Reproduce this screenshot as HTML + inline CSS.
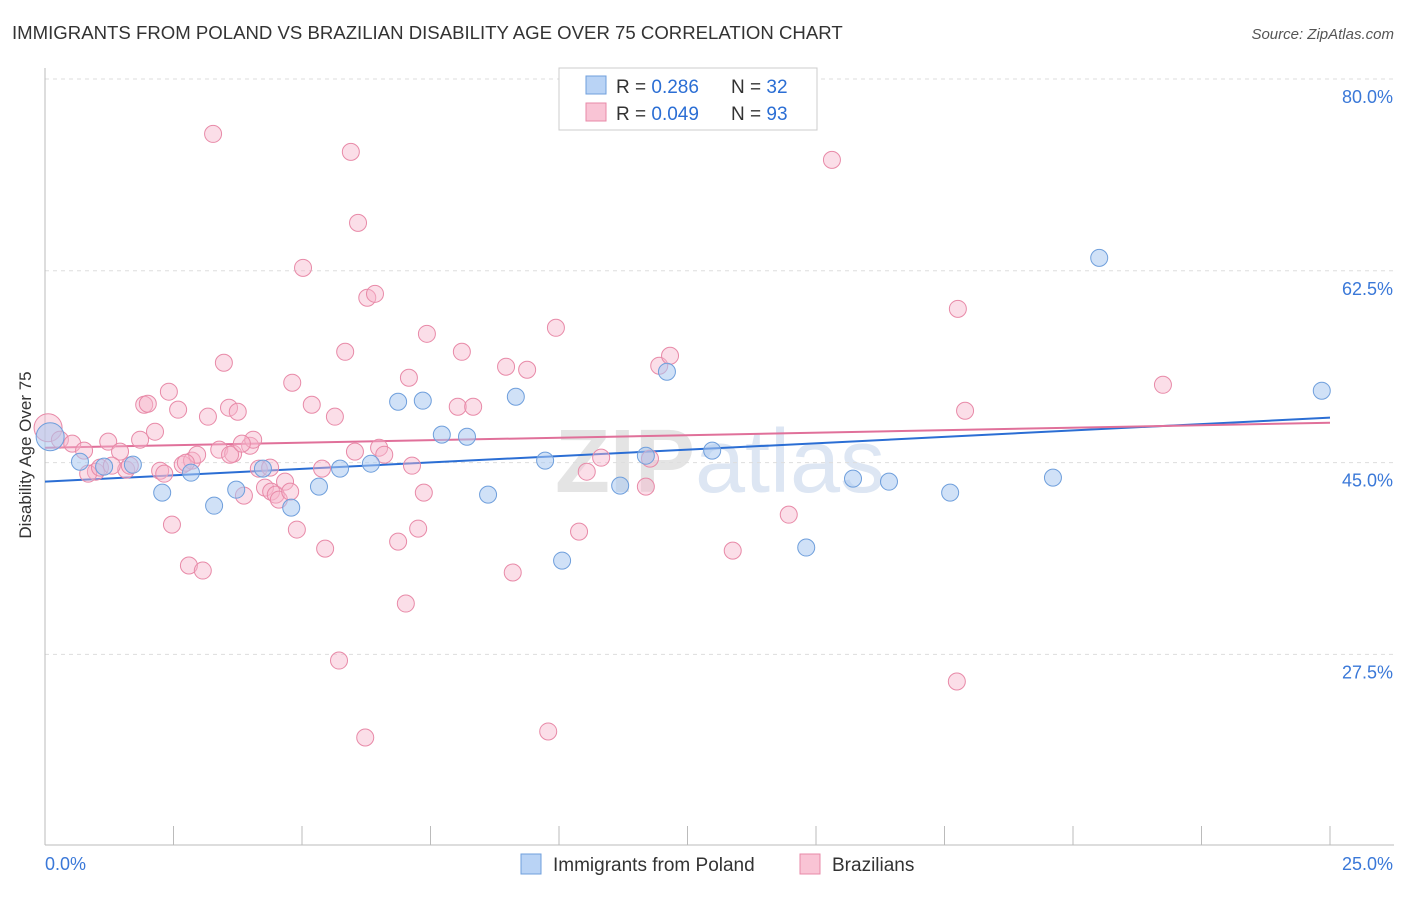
<!DOCTYPE html>
<html><head><meta charset="utf-8">
<style>
body{margin:0;background:#fff;font-family:"Liberation Sans",sans-serif;}
svg text{font-family:"Liberation Sans",sans-serif;}
</style></head>
<body>
<svg id="chart" width="1406" height="892" xmlns="http://www.w3.org/2000/svg">
<text x="12" y="39" font-size="18.6" fill="#333">IMMIGRANTS FROM POLAND VS BRAZILIAN DISABILITY AGE OVER 75 CORRELATION CHART</text>
<text x="1394" y="39" font-size="15" fill="#555" text-anchor="end" font-style="italic">Source: ZipAtlas.com</text>
<text transform="translate(31,455) rotate(-90)" font-size="17" fill="#333" text-anchor="middle">Disability Age Over 75</text>
<text x="720" y="492" font-size="90" fill="#e4e4e4" text-anchor="middle" font-weight="bold">ZIP<tspan fill="#dde6f3" font-weight="normal">atlas</tspan></text>
<g id="grid"></g>
<g id="axes"></g>
<g id="lines"></g>
<g id="points"></g>
<g>
<rect x="559" y="68" width="258" height="62" fill="#fff" stroke="#ccc"/>
<rect x="586" y="76" width="20" height="18" fill="#b9d3f5" stroke="#6f9fdc"/>
<text x="616" y="93" font-size="19" fill="#333">R = <tspan fill="#2b6ed4">0.286</tspan></text>
<text x="731" y="93" font-size="19" fill="#333">N = <tspan fill="#2b6ed4">32</tspan></text>
<rect x="586" y="103" width="20" height="18" fill="#f9c4d5" stroke="#e88aa8"/>
<text x="616" y="120" font-size="19" fill="#333">R = <tspan fill="#2b6ed4">0.049</tspan></text>
<text x="731" y="120" font-size="19" fill="#333">N = <tspan fill="#2b6ed4">93</tspan></text>
</g>
<g>
<rect x="521" y="854" width="20" height="20" fill="#b9d3f5" stroke="#6f9fdc"/>
<text x="553" y="871" font-size="19" fill="#333">Immigrants from Poland</text>
<rect x="800" y="854" width="20" height="20" fill="#f9c4d5" stroke="#e88aa8"/>
<text x="832" y="871" font-size="19" fill="#333">Brazilians</text>
</g>
</svg>
<script>
const yTicks=[80,62.5,45,27.5];
const yTickLabels=["80.0%","62.5%","45.0%","27.5%"];
const xTickLabels=["0.0%","25.0%"];
const polandX=[0.10,0.68,1.15,1.71,2.28,2.84,3.29,3.72,4.24,4.79,5.33,5.74,6.34,6.87,7.35,7.72,8.21,8.62,9.16,9.73,10.06,11.19,11.69,12.10,12.98,14.81,15.72,16.42,17.61,19.61,20.51,24.84];
const polandY=[47.36,45.08,44.63,44.81,42.26,44.08,41.07,42.53,44.45,40.89,42.81,44.45,44.90,50.55,50.65,47.55,47.36,42.08,51.01,45.18,36.06,42.90,45.63,53.29,46.09,37.25,43.54,43.26,42.26,43.63,63.68,51.56];
const brazilX=[0.06,0.29,0.53,0.76,0.99,1.23,1.46,1.58,1.85,1.93,2.00,2.14,2.24,2.32,2.41,2.47,2.59,2.68,2.80,2.86,2.96,3.07,3.17,3.27,3.39,3.48,3.58,3.66,3.75,3.87,3.99,4.05,4.16,4.28,4.40,4.49,4.55,4.67,4.81,4.90,5.02,5.19,5.39,5.45,5.64,5.72,5.84,5.95,6.09,6.23,6.27,6.42,6.50,6.60,6.87,7.02,7.08,7.14,7.26,7.37,7.43,8.11,8.03,8.33,8.97,9.10,9.38,9.79,9.94,10.39,10.54,10.82,11.69,11.77,11.95,12.16,13.38,14.47,15.31,17.74,17.76,17.90,21.75,0.84,1.07,1.30,1.65,2.74,3.60,3.83,4.38,4.77,6.03];
const brazilY=[48.18,47.09,46.73,46.09,44.17,46.91,46.00,44.36,47.09,50.28,50.37,47.82,44.26,43.99,51.47,39.34,49.83,44.81,35.61,45.18,45.72,35.15,49.19,74.99,46.18,54.11,50.01,45.81,49.64,41.99,46.54,47.09,44.45,42.72,42.35,42.08,41.62,43.26,52.29,38.89,62.77,50.28,44.45,37.15,49.19,26.94,55.11,73.35,66.87,19.92,60.04,60.40,46.36,45.72,37.79,32.14,52.74,44.72,38.98,42.26,56.75,55.11,50.10,50.10,53.75,34.97,53.47,20.47,57.30,38.70,44.17,45.45,42.81,45.36,53.84,54.75,36.97,40.25,72.62,25.03,59.03,49.73,52.10,43.99,44.54,44.72,44.72,44.99,45.72,46.73,44.54,42.35,46.00];
const polandTrend=[43.26,49.10];
const brazilTrend=[46.36,48.64];

const NS="http://www.w3.org/2000/svg";
const X=v=>45+v/25*1285;
const Y=v=>79+(80-v)/17.5*191.8;
function mk(tag,attrs,parent){const e=document.createElementNS(NS,tag);for(const k in attrs)e.setAttribute(k,attrs[k]);parent.appendChild(e);return e;}
const grid=document.getElementById('grid'),axes=document.getElementById('axes'),lines=document.getElementById('lines'),pts=document.getElementById('points');
yTicks.forEach((t,i)=>{
  const l=mk('line',{x1:45,x2:1394,y1:Y(t),y2:Y(t),stroke:'#ddd','stroke-dasharray':'4,4'},grid);
  
  
  const tx=mk('text',{x:1393,y:Y(t)+24,'font-size':18,fill:'#3a78d8','text-anchor':'end'},grid);
  tx.textContent=yTickLabels[i];
  
  
});
const ya=mk('line',{x1:45,x2:45,y1:68,y2:845,stroke:'#bbb'},axes);


const xa=mk('line',{x1:45,x2:1394,y1:845,y2:845,stroke:'#bbb'},axes);


for(let i=0;i<=10;i++){
  const t=mk('line',{x1:X(i*2.5),x2:X(i*2.5),y1:826,y2:845,stroke:'#bbb'},axes);
  
  
}
[[0,45,'start'],[25,1393,'end']].forEach((d,i)=>{
  const tx=mk('text',{x:d[1],y:870,'font-size':18,fill:'#3a78d8','text-anchor':d[2]},axes);
  tx.textContent=xTickLabels[i];
  
  
});
const bl=mk('line',{x1:X(0),x2:X(25),y1:Y(polandTrend[0]),y2:Y(polandTrend[1]),stroke:'#2b6ed4','stroke-width':2},lines);


const pl=mk('line',{x1:X(0),x2:X(25),y1:Y(brazilTrend[0]),y2:Y(brazilTrend[1]),stroke:'#e0709a','stroke-width':2},lines);


brazilX.forEach((x,i)=>{
  const c=mk('circle',{cx:X(x),cy:Y(brazilY[i]),r:i===0?14:8.5,fill:'rgba(247,182,203,0.45)',stroke:'#e88aa8','stroke-width':1},pts);
  
  
});
polandX.forEach((x,i)=>{
  const c=mk('circle',{cx:X(x),cy:Y(polandY[i]),r:i===0?14:8.5,fill:'rgba(170,200,240,0.55)',stroke:'#6f9fdc','stroke-width':1},pts);
  
  
});
</script>
</body></html>
